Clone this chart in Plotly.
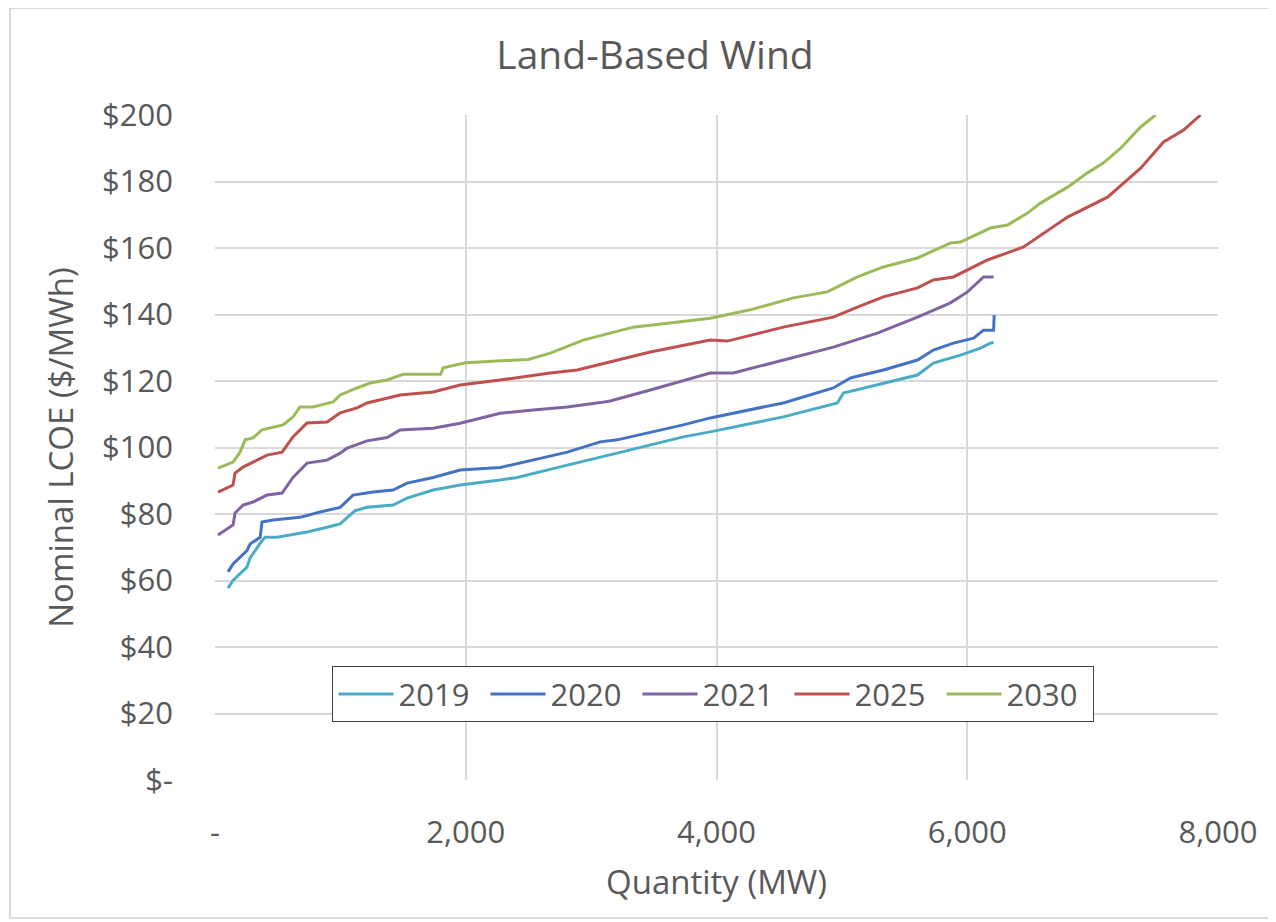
import plotly.graph_objects as go

years = ["2019", "2020", "2021", "2025", "2030"]
colors = ["#4BACC6", "#4472C4", "#8064A2", "#C0504D", "#9BBB59"]

x2019 = [104,144,255,280,375,400,495,734,894,998,1117,1213,1420,1532,1740,1955,2275,2410,2810,3073,3208,3735,3950,4533,4964,5012,5331,5603,5730,5866,5946,6106,6185,6210]
y2019 = [57.7,60,64,66.8,72,73,73,74.6,76,77,81,82,82.7,84.8,87.2,88.7,90.2,91,94.7,97,98.3,103.2,104.7,109.2,113.4,116.4,119.4,121.8,125.4,126.9,127.8,129.9,131.4,131.6]

x2020 = [104,144,255,280,360,375,463,678,838,998,1101,1261,1420,1532,1740,1955,2275,2538,2810,3073,3208,3735,3950,4533,4932,5068,5331,5603,5730,5890,6050,6130,6210,6215]
y2020 = [62.6,65,69,71,73,77.6,78.2,79,80.6,82,85.7,86.6,87.2,89.3,91,93.2,94,96.2,98.6,101.7,102.3,106.8,108.9,113.4,117.9,120.9,123.3,126.3,129.3,131.4,132.9,135.3,135.3,139.8]

x2021 = [24,144,160,224,303,415,535,622,734,894,998,1053,1213,1373,1476,1740,1955,2059,2275,2538,2810,3073,3152,3472,3950,4134,4533,4932,5283,5603,5866,6002,6130,6210]
y2021 = [73.7,76.7,80.3,82.7,83.6,85.7,86.3,91,95.3,96.2,98.3,99.8,102,103,105.3,105.8,107.3,108.3,110.3,111.3,112.2,113.5,114,117.3,122.4,122.4,126.3,130.2,134.4,139.2,143.5,146.8,151.3,151.3]

x2025 = [24,144,160,224,303,415,535,622,734,894,998,1133,1213,1476,1740,1955,2275,2674,2889,3208,3472,3950,4086,4533,4932,5124,5331,5603,5730,5890,6161,6449,6608,6800,7119,7279,7383,7566,7726,7861]
y2025 = [86.6,88.7,92.3,94.1,95.6,97.7,98.6,103.2,107.4,107.7,110.4,111.9,113.4,115.8,116.7,118.8,120.3,122.4,123.3,126.3,128.7,132.3,132,136.2,139.2,142.2,145.3,148,150.4,151.3,156.4,160.3,164.5,169.3,175.3,180.5,184,191.9,195.5,200]

x2030 = [24,144,200,240,303,375,543,622,678,782,942,998,1133,1237,1373,1500,1800,1820,2000,2500,2674,2937,3336,3950,4270,4613,4884,5124,5331,5603,5866,5946,6185,6321,6481,6584,6800,6959,7087,7223,7383,7502]
y2030 = [93.8,95.6,98.6,102.3,102.9,105.3,106.8,109.2,112.2,112.2,113.7,115.8,117.9,119.4,120.3,122,122,124,125.5,126.5,128.4,132.3,136.2,138.9,141.4,145,146.8,151.3,154.3,157,161.5,161.8,166,166.9,170.5,173.5,178.3,182.6,185.6,190,196.4,200]

xs = [x2019, x2020, x2021, x2025, x2030]
ys = [y2019, y2020, y2021, y2025, y2030]

y_ticks = [0, 20, 40, 60, 80, 100, 120, 140, 160, 180, 200]
y_labels = ["$-", "$20", "$40", "$60", "$80", "$100", "$120", "$140", "$160", "$180", "$200"]
x_ticks = [0, 2000, 4000, 6000, 8000]
x_labels = ["-", "2,000", "4,000", "6,000", "8,000"]

FONT = "Open Sans"
TXT = "#595959"

fig = go.Figure()
for name, c, x, y in zip(years, colors, xs, ys):
    fig.add_trace(go.Scatter(x=x, y=y, mode="lines", name=name,
                             line=dict(color=c, width=3)))

fig.update_layout(
    width=1268, height=914,
    margin=dict(l=207, r=58, t=107, b=142),
    paper_bgcolor="white", plot_bgcolor="white",
    font=dict(family=FONT, color=TXT),
    title=dict(text="Land-Based Wind", x=647 / 1268, xanchor="center",
               y=1 - 47 / 914, yanchor="middle",
               font=dict(size=39, color=TXT, family=FONT)),
    legend=dict(orientation="h", x=0.497, xanchor="center", y=0.171, yanchor="top",
                bgcolor="white", bordercolor="#404040", borderwidth=1,
                font=dict(size=31, color=TXT, family=FONT),
                itemwidth=55, entrywidth=82, entrywidthmode="pixels"),
    showlegend=True,
)
fig.update_xaxes(range=[0, 8000], tickvals=x_ticks, ticktext=x_labels,
                 showgrid=True, gridcolor="#d9d9d9", gridwidth=1.5,
                 zeroline=False, showline=False, ticks="",
                 tickfont=dict(size=31, color=TXT), ticklabelstandoff=31,
                 title=dict(text="Quantity (MW)", font=dict(size=33, color=TXT), standoff=19))
fig.update_yaxes(range=[0, 200], tickvals=y_ticks, ticktext=y_labels,
                 showgrid=True, gridcolor="#d9d9d9", gridwidth=1.5,
                 zeroline=False, showline=False, ticks="",
                 tickfont=dict(size=31, color=TXT), ticklabelstandoff=41,
                 title=dict(text="Nominal LCOE ($/MWh)", font=dict(size=33, color=TXT), standoff=18))

fig.add_shape(type="rect", xref="paper", yref="paper",
              x0=(10 - 215) / 1003, x1=(1270 - 215) / 1003,
              y0=(780 - 918) / 665, y1=(780 - 8) / 665,
              line=dict(color="#cfcfcf", width=1.5), layer="below")

fig.write_html("out.html")
